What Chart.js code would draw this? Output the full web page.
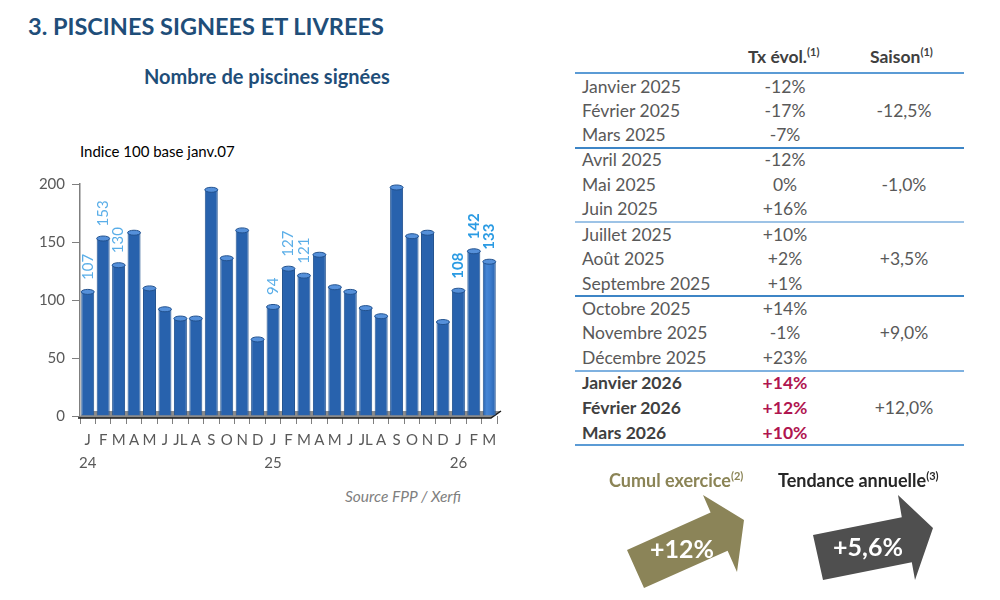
<!DOCTYPE html>
<html lang="fr">
<head>
<meta charset="utf-8">
<script src="https://cdn.jsdelivr.net/npm/chart.js@4/dist/chart.umd.min.js"></script>
<style>
  html, body { margin:0; padding:0; background:#fff; }
  body { width:1000px; height:600px; position:relative; overflow:hidden; font-family: Lato, "Open Sans", sans-serif; }
  .abs { position:absolute; white-space:nowrap; }
  #title { left:28px; top:12px; font-size:23.5px; font-weight:700; color:#1f4e79; }
  #subtitle { left:144px; top:64px; font-size:20px; font-weight:700; color:#1f4e79; }
  #indice { left:80px; top:142px; font-size:15px; color:#000; }
  #source { left:345px; top:487px; font-size:15.5px; font-style:italic; color:#7f7f7f; }
  #chartBox { position:absolute; left:0; top:140px; width:520px; height:345px; }
  .cell { position:absolute; font-size:17.5px; color:#595959; line-height:20px; }
  .hdr { font-weight:700; color:#404040; }
  sup { font-size:11px; vertical-align: 7px; line-height:0; }
  .hline { position:absolute; left:575px; width:389px; height:2px; background:#5b9bd5; }
  .arrowtxt { position:absolute; color:#fff; font-weight:700; font-size:25px; transform:translate(-50%,-50%); }
</style>
</head>
<body>
<div id="title" class="abs">3. PISCINES SIGNEES ET LIVREES</div>
<div id="subtitle" class="abs">Nombre de piscines signées</div>
<div id="indice" class="abs">Indice 100 base janv.07</div>
<div id="source" class="abs">Source FPP / Xerfi</div>
<div id="chartBox"><canvas id="c" width="520" height="345"></canvas></div>
<div id="table"></div>

<svg class="abs" style="left:0;top:0" width="1000" height="600">
  <polygon points="627,550 710.6,512.4 703,495 744,520 737,572 727.6,550.8 644,588" fill="#8b8458"/>
  <polygon points="813,535 901.8,517.2 898,495 933,528 915,580 911.8,562.2 823,580" fill="#4f4f4f"/>
</svg>
<div class="abs" style="left:609px;top:469px;font-size:18px;font-weight:700;color:#8b8456;">Cumul exercice<sup>(2)</sup></div>
<div class="abs" style="left:778px;top:469px;font-size:18px;font-weight:700;color:#262626;">Tendance annuelle<sup>(3)</sup></div>
<div class="arrowtxt" style="left:682px;top:548px;">+12%</div>
<div class="arrowtxt" style="left:868px;top:546px;">+5,6%</div>

<script>
// ---- Chart data ----
const monthLetters = ['J','F','M','A','M','J','JL','A','S','O','N','D',
                      'J','F','M','A','M','J','JL','A','S','O','N','D',
                      'J','F','M'];
const yearLabels = ['24','','','','','','','','','','','',
                    '25','','','','','','','','','','','',
                    '26','',''];
const signedIndex = [107,153,130,158,110,92,84,84,195,136,160,66,
                     94,127,121,139,111,107,93,86,197,155,158,81,
                     108,142,133];
const labeledBars = [0,1,2,12,13,14,24,25,26];
const boldLabels = [24,25,26];
const yTicks = [0,50,100,150,200];

// ---- Table data ----
const tableMonths = ['Janvier 2025','Février 2025','Mars 2025','Avril 2025','Mai 2025','Juin 2025',
  'Juillet 2025','Août 2025','Septembre 2025','Octobre 2025','Novembre 2025','Décembre 2025',
  'Janvier 2026','Février 2026','Mars 2026'];
const tableTx = ['-12%','-17%','-7%','-12%','0%','+16%','+10%','+2%','+1%','+14%','-1%','+23%','+14%','+12%','+10%'];
const tableSaison = ['-12,5%','-1,0%','+3,5%','+9,0%','+12,0%'];

// Build table
(function(){
  const t = document.getElementById('table');
  let html = '';
  html += '<div class="cell hdr" style="left:748px;top:47px;">Tx évol.<sup>(1)</sup></div>';
  html += '<div class="cell hdr" style="left:870px;top:47px;">Saison<sup>(1)</sup></div>';
  const rowY = [87,111,135,160,185,209,235,259,284,309,333,358,383,408,433];
  tableMonths.forEach((m,i)=>{
    const bold = i >= 12;
    const y = rowY[i]-10;
    html += '<div class="cell" style="left:582px;top:'+y+'px;'+(bold?'font-weight:700;color:#404040;':'')+'">'+m+'</div>';
    html += '<div class="cell" style="left:785px;top:'+y+'px;transform:translateX(-50%);'+(bold?'font-weight:700;color:#b0154f;':'')+'">'+tableTx[i]+'</div>';
  });
  tableSaison.forEach((s,k)=>{
    const y = rowY[k*3+1]-10;
    html += '<div class="cell" style="left:904px;top:'+y+'px;transform:translateX(-50%);">'+s+'</div>';
  });
  const lines = [[72,'#5b9bd5'],[147,'#3d85c6'],[221,'#9dc3e6'],[295,'#3d85c6'],[370,'#7fb1e0'],[444,'#5b9bd5']];
  lines.forEach(l=>{ html += '<div class="hline" style="top:'+l[0]+'px;background:'+l[1]+';"></div>'; });
  t.innerHTML = html;
})();

// ---- Chart ----
const bar3d = {
  id:'bar3d',
  beforeDatasetsDraw(chart){
    const {ctx, chartArea:a} = chart;
    ctx.save();
    ctx.beginPath();
    ctx.moveTo(a.left-2, a.bottom+2);
    ctx.lineTo(a.right-6, a.bottom+2);
    ctx.lineTo(a.right+4, a.bottom-5);
    ctx.lineTo(a.left+6, a.bottom-5);
    ctx.closePath();
    ctx.fillStyle='#8c8c8c';
    ctx.fill();
    ctx.beginPath();
    ctx.moveTo(a.left-2, a.bottom+2);
    ctx.lineTo(a.right-6, a.bottom+2);
    ctx.lineTo(a.right+4, a.bottom-5);
    ctx.strokeStyle='#1a1a1a'; ctx.lineWidth=1.5; ctx.stroke();
    ctx.restore();
    const meta = chart.getDatasetMeta(0);
    meta.data.forEach(el=>{
      const x0 = el.x - el.width/2, x1 = el.x + el.width/2;
      const g = ctx.createLinearGradient(x0,0,x1,0);
      g.addColorStop(0,'#2862ad');
      g.addColorStop(0.3,'#4585d5');
      g.addColorStop(0.6,'#3b7bcc');
      g.addColorStop(1,'#2963ae');
      el.options.backgroundColor = g;
    });
  },
  afterDatasetsDraw(chart){
    const {ctx} = chart;
    const meta = chart.getDatasetMeta(0);
    ctx.save();
    meta.data.forEach((el,i)=>{
      ctx.beginPath();
      ctx.ellipse(el.x, el.y, el.width/2, 2.5, 0, 0, Math.PI*2);
      ctx.fillStyle='#5590da';
      ctx.fill();
      ctx.strokeStyle='#22528f'; ctx.lineWidth=1; ctx.stroke();
      if (labeledBars.includes(i)) {
        const bold = boldLabels.includes(i);
        ctx.save();
        ctx.translate(el.x, el.y - 12);
        ctx.rotate(-Math.PI/2);
        ctx.font = (bold?'700 ':'400 ') + '15px Lato, "Open Sans", sans-serif';
        ctx.fillStyle = bold ? '#2b9be3' : '#5aaee8';
        ctx.textAlign='left'; ctx.textBaseline='middle';
        ctx.fillText(String(signedIndex[i]), 0, 0);
        ctx.restore();
      }
    });
    ctx.restore();
  }
};

const labels = monthLetters.map((m,i)=> [m, yearLabels[i]]);

new Chart(document.getElementById('c'), {
  type:'bar',
  data:{ labels, datasets:[{ data: signedIndex, borderColor:'#22528f', borderWidth:1,
    backgroundColor:'#3472c2', barPercentage:0.84, categoryPercentage:1.0 }] },
  options:{
    responsive:false, animation:false,
    layout:{ padding:{ top:44, right:23, bottom:9, left:0 } },
    plugins:{ legend:{display:false}, tooltip:{enabled:false}, title:{display:false} },
    scales:{
      x:{
        afterFit(s){ s.height = 60; },
        grid:{ display:true, drawOnChartArea:false, offset:true, tickLength:8, color:'#7f7f7f', lineWidth:1 },
        border:{ display:false },
        ticks:{ autoSkip:false, maxRotation:0, minRotation:0, padding:5, color:'#595959',
          font:{ family:'Lato, "Open Sans", sans-serif', size:15, lineHeight:1.5 } }
      },
      y:{
        min:0, max:200,
        afterFit(s){ s.width = 80; },
        afterBuildTicks(s){ s.ticks = yTicks.map(v=>({value:v})); },
        grid:{ display:true, drawOnChartArea:false, tickLength:8, color:'#7f7f7f' },
        border:{ display:true, color:'#7f7f7f', width:1.5 },
        ticks:{ padding:7, color:'#595959', font:{ family:'Lato, "Open Sans", sans-serif', size:15 } }
      }
    }
  },
  plugins:[bar3d]
});
</script>
</body>
</html>
